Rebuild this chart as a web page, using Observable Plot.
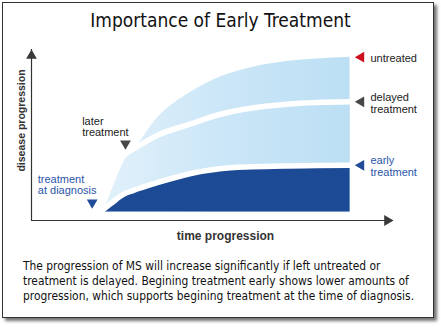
<!DOCTYPE html>
<html><head><meta charset="utf-8">
<script src="https://cdn.jsdelivr.net/npm/d3@7"></script>
<script src="https://cdn.jsdelivr.net/npm/@observablehq/plot@0.6"></script>
<style>
html,body{margin:0;padding:0;background:#fff;}
body{width:441px;height:327px;position:relative;overflow:hidden;font-family:"Liberation Sans",Arial,sans-serif;}
#card{position:absolute;left:2px;top:2px;width:430px;height:314px;border:1px solid #333;box-shadow:3px 3px 3px rgba(0,0,0,0.55);background:#fff;box-sizing:content-box;}
#title{position:absolute;left:0;top:8px;width:441px;text-align:center;font-family:"DejaVu Sans Condensed","DejaVu Sans",sans-serif;font-size:19px;color:#111;line-height:24px;}
#chart{position:absolute;left:0;top:40px;}
#caption{position:absolute;left:23px;top:258.5px;font-family:"DejaVu Sans Condensed","DejaVu Sans",sans-serif;font-size:11.9px;line-height:15px;color:#111;white-space:nowrap;}
</style></head>
<body>
<div id="card"></div>
<div id="title">Importance of Early Treatment</div>
<div id="chart"></div>
<div id="caption">The progression of MS will increase significantly if left untreated or<br>treatment is delayed. Begining treatment early shows lower amounts of<br>progression, which supports begining treatment at the time of diagnosis.</div>
<script>
// ---- data (arbitrary units) ----
const time      = [19, 22, 25.5, 28, 35, 44, 52, 61, 70.5, 79, 88];
const early     = [5, 10, 15.4, 17.5, 22.3, 27.5, 30.3, 31.4, 31.9, 32.1, 32.3];
const delayed   = [5, 22, 38, 41.5, 50, 56.5, 62, 65.8, 68, 69, 69.4];
const untreated = [5, 22, 38, 41.5, 60.5, 75, 83.8, 89.5, 93, 94.5, 95.5];
const baseline = 5;
const xDomain = [0, 100];
const yDomain = [0, 100];
const xLabel = "time progression";
const yLabel = "disease progression";
const endLabels = ["untreated", "delayed\ntreatment", "early\ntreatment"];
const startLabels = ["later\ntreatment", "treatment\nat diagnosis"];

const rows = time.map((t, i) => ({t, early: early[i], delayed: delayed[i], untreated: untreated[i]}));
const last = rows[rows.length - 1];
const ends = [
  {label: endLabels[0], y: last.untreated, tri: "#cc1020", ink: "#222"},
  {label: endLabels[1], y: last.delayed, tri: "#474747", ink: "#222"},
  {label: endLabels[2], y: last.early, tri: "#1f4b98", ink: "#2a56a8"}
];
const branch = rows[3];
const start = rows[0];

const DARK = "#1c4a94";
const font = "Liberation Sans, Arial, sans-serif";

const plot = Plot.plot({
  width: 441,
  height: 210,
  marginLeft: 31,
  marginRight: 48,
  marginTop: 9,
  marginBottom: 30,
  x: {domain: xDomain, axis: null},
  y: {domain: yDomain, axis: null},
  color: {type: "identity"},
  style: {fontFamily: font, background: "transparent", overflow: "visible"},
  marks: [
    Plot.areaY(rows, {x: "t", y1: baseline, y2: "untreated", fill: "url(#lightGrad)", curve: "monotone-x"}),
    Plot.areaY(rows, {x: "t", y1: baseline, y2: "delayed", fill: "url(#lightGrad)", curve: "monotone-x"}),
    Plot.areaY(rows, {x: "t", y1: baseline, y2: "early", fill: DARK, curve: "monotone-x"}),
    Plot.line(rows, {x: "t", y: "delayed", stroke: "white", strokeWidth: 5.5, curve: "monotone-x"}),
    Plot.line(rows, {x: "t", y: "early", stroke: "white", strokeWidth: 5.5, curve: "monotone-x"}),
    // axes with arrowheads
    Plot.ruleY([yDomain[0]], {x1: xDomain[0], x2: xDomain[1], stroke: "#333", strokeWidth: 1.2}),
    Plot.ruleX([xDomain[0]], {y1: yDomain[0], y2: yDomain[1], stroke: "#333", strokeWidth: 1.2}),
    Plot.dot([xDomain[1]], {x: d => d, y: yDomain[0], symbol: "triangle", rotate: 90, r: 4, fill: "#3a3a3a", stroke: null, dx: -6.2}),
    Plot.dot([yDomain[1]], {x: xDomain[0], y: d => d, symbol: "triangle", rotate: 0, r: 4, fill: "#3a3a3a", stroke: null, dy: 6.2}),
    // axis labels
    Plot.text([yLabel], {text: d => d, frameAnchor: "left", textAnchor: "middle", lineAnchor: "middle", rotate: -90, dx: -10, dy: -14.5, fontWeight: "bold", fontSize: 10.5, fill: "#333"}),
    Plot.text([xLabel], {text: d => d, frameAnchor: "bottom", textAnchor: "middle", lineAnchor: "middle", dx: 13, dy: 16, fontWeight: "bold", fontSize: 12, fill: "#333"}),
    // end-of-series labels
    Plot.dot(ends, {x: last.t, y: "y", symbol: "triangle", rotate: -90, r: 4, fill: "tri", stroke: null, dx: 11}),
    Plot.text(ends, {x: last.t, y: "y", text: "label", fill: "ink", textAnchor: "start", dx: 20.4, dy: 1.2, fontSize: 11, lineHeight: 1.05}),
    // start labels
    Plot.dot([branch], {x: "t", y: "delayed", symbol: "triangle", rotate: 180, r: 4, fill: "#474747", stroke: null, dx: -7.4, dy: -5.9}),
    Plot.text([branch], {x: "t", y: "delayed", text: () => startLabels[0], fill: "#222", textAnchor: "start", dx: -50.7, dy: -22.8, fontSize: 11, lineHeight: 1.05}),
    Plot.dot([start], {x: "t", y: "early", symbol: "triangle", rotate: 180, r: 4, fill: "#1f4b98", stroke: null, dx: -8.1, dy: -9.3}),
    Plot.text([start], {x: "t", y: "early", text: () => startLabels[1], fill: "#2a56a8", textAnchor: "start", dx: -62.5, dy: -27.3, fontSize: 11, lineHeight: 1.06})
  ]
});

// horizontal gradient for the light bands
const ns = "http://www.w3.org/2000/svg";
const defs = document.createElementNS(ns, "defs");
const grad = document.createElementNS(ns, "linearGradient");
grad.setAttribute("id", "lightGrad");
grad.setAttribute("x1", "0"); grad.setAttribute("x2", "1");
grad.setAttribute("y1", "0"); grad.setAttribute("y2", "0");
[["0", "#e2f1fb"], ["0.5", "#cbe6f7"], ["1", "#bcdff4"]].forEach(([o, c]) => {
  const s = document.createElementNS(ns, "stop");
  s.setAttribute("offset", o); s.setAttribute("stop-color", c);
  grad.appendChild(s);
});
defs.appendChild(grad);
plot.insertBefore(defs, plot.firstChild);
document.getElementById("chart").appendChild(plot);
</script>
</body></html>
